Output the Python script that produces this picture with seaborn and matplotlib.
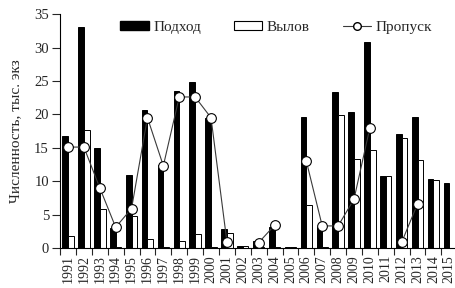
import numpy as np
import pandas as pd
import seaborn as sns
import matplotlib.pyplot as plt
from matplotlib.patches import Patch
from matplotlib.lines import Line2D

# data
years = [str(y) for y in range(1991, 2016)]
podhod = [16.8, 33.0, 14.9, 3.0, 10.9, 20.7, 12.4, 23.5, 24.8, 19.5,
          2.8, 0.3, 1.0, 3.1, 0.2, 19.6, 3.2, 23.3, 20.4, 30.9,
          10.8, 17.1, 19.6, 10.3, 9.7]
vylov = [1.8, 17.7, 5.9, 0.2, 4.8, 1.3, 0.1, 1.1, 2.1, 0.2,
         2.3, 0.3, 0.1, 0.1, 0.1, 6.5, 0.2, 19.9, 13.3, 14.7,
         10.8, 16.4, 13.2, 10.2, 0.0]
propusk = [15.1, 15.1, 9.0, 3.1, 5.9, 19.5, 12.3, 22.6, 22.6, 19.5,
           0.95, np.nan, 0.8, 3.4, np.nan, 13.0, 3.3, 3.3, 7.3, 18.0,
           np.nan, 0.85, 6.6, np.nan, np.nan]
series_names = ["Подход", "Вылов", "Пропуск"]

df = pd.DataFrame({
    "year": years * 2,
    "value": podhod + vylov,
    "series": [series_names[0]] * len(years) + [series_names[1]] * len(years),
})

sns.set_style("ticks")
plt.rcParams['font.family'] = ['Liberation Serif', 'DejaVu Serif']
plt.rcParams['font.size'] = 10

fig = plt.figure(figsize=(4.55, 2.88), dpi=100)
ax = fig.add_axes([0.132, 0.139, 0.873, 0.812])

sns.barplot(data=df, x="year", y="value", hue="series", hue_order=series_names[:2],
            palette=["black", "white"], edgecolor="black", linewidth=0.7,
            width=0.72, gap=0, legend=False, ax=ax)

# escapement line, gaps where no data
pos = np.arange(len(years))
ax.plot(pos, propusk, color="#3a3a3a", lw=0.8, marker="o", ms=7,
        mfc="white", mec="black", mew=0.8, zorder=5, clip_on=False)

ax.set_xlim(-0.5, len(years) - 0.5)
ax.set_ylim(0, 35)
ax.set_yticks(range(0, 36, 5))
ax.set_xticks(pos - 0.5, minor=False)
ax.set_xticklabels([])
ax.set_xticks(pos, minor=True)
ax.set_xticklabels(years, minor=True, rotation=90, va="top")
ax.tick_params(axis="x", which="minor", length=0, pad=5, labelsize=10)
ax.tick_params(axis="x", which="major", length=5, width=0.8, direction="out")
ax.tick_params(axis="y", length=6, width=0.8, labelsize=10.5, pad=2)
ax.set_xlabel("")
ax.set_ylabel("Численность, тыс. экз", fontsize=11, labelpad=9)
sns.despine(ax=ax)
for s in ["left", "bottom"]:
    ax.spines[s].set_linewidth(0.8)
    ax.spines[s].set_color("black")

handles = [
    Patch(facecolor="black", edgecolor="black", label=series_names[0]),
    Patch(facecolor="white", edgecolor="black", linewidth=0.8, label=series_names[1]),
    Line2D([], [], color="#3a3a3a", lw=0.8, marker="o", ms=5.5, mfc="white",
           mec="black", label=series_names[2]),
]
fig.legend(handles=handles, ncol=3, frameon=False, loc="upper center",
           bbox_to_anchor=(0.607, 0.975), handlelength=1.85, handleheight=0.55,
           columnspacing=2.15, handletextpad=0.3, fontsize=11)

fig.savefig("out.png", dpi=100)
